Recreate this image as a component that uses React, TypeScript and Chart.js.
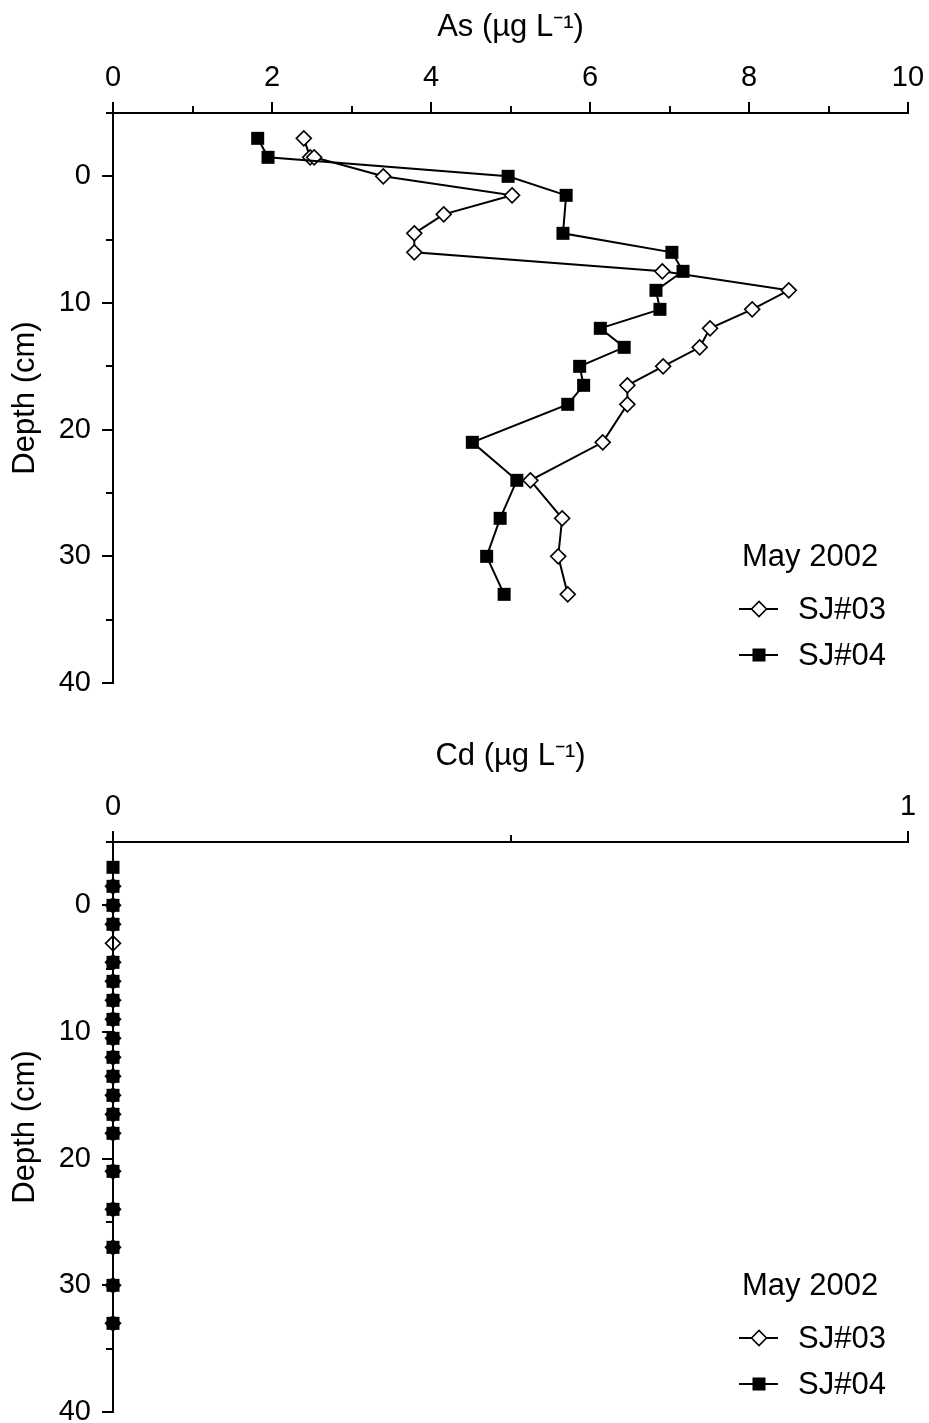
import React, { useEffect, useRef } from 'react';
import { Chart, registerables } from 'chart.js';

Chart.register(...registerables);

// ---------- Data ----------
const legendTitle = 'May 2002';
const seriesNames = ['SJ#03', 'SJ#04'];

// As panel
const asDepthSJ03 = [-3, -1.5, -1.5, 0, 1.5, 3, 4.5, 6, 7.5, 9, 10.5, 12, 13.5, 15, 16.5, 18, 21, 24, 27, 30, 33];
const asValueSJ03 = [2.40, 2.48, 2.53, 3.40, 5.02, 4.16, 3.79, 3.79, 6.91, 8.50, 8.04, 7.51, 7.38, 6.92, 6.47, 6.47, 6.16, 5.25, 5.65, 5.60, 5.72];
const asDepthSJ04 = [-3, -1.5, 0, 1.5, 4.5, 6, 7.5, 9, 10.5, 12, 13.5, 15, 16.5, 18, 21, 24, 27, 30, 33];
const asValueSJ04 = [1.82, 1.95, 4.97, 5.70, 5.66, 7.03, 7.17, 6.83, 6.88, 6.13, 6.43, 5.87, 5.92, 5.72, 4.52, 5.08, 4.87, 4.70, 4.92];

// Cd panel
const cdDepthSJ03 = [-1.5, 0, 1.5, 3, 4.5, 6, 7.5, 9, 10.5, 12, 13.5, 15, 16.5, 18, 21, 24, 27, 30, 33];
const cdValueSJ03 = [0, 0, 0, 0, 0, 0, 0, 0, 0, 0, 0, 0, 0, 0, 0, 0, 0, 0, 0];
const cdDepthSJ04 = [-3, -1.5, 0, 1.5, 4.5, 6, 7.5, 9, 10.5, 12, 13.5, 15, 16.5, 18, 21, 24, 27, 30, 33];
const cdValueSJ04 = [0, 0, 0, 0, 0, 0, 0, 0, 0, 0, 0, 0, 0, 0, 0, 0, 0, 0, 0];

// Axes
const depthMin = -5;
const depthMax = 40;
const depthStep = 5;
const depthLabelStep = 10;
const depthTitle = 'Depth (cm)';

const asTitle = 'As (\u00b5g L\u207b\u00b9)';
const asMax = 10;
const asStep = 1;
const asLabelStep = 2;

const cdTitle = 'Cd (\u00b5g L\u207b\u00b9)';
const cdMax = 1;
const cdStep = 0.5;
const cdLabelStep = 1;

const FONT = "'Liberation Sans', Arial, Helvetica, sans-serif";
const MAJOR_TICK = 11;
const MINOR_TICK = 7;

function isMultiple(v: number, step: number) {
  const r = v / step;
  return Math.abs(r - Math.round(r)) < 1e-9;
}

function drawDiamond(ctx: CanvasRenderingContext2D, x: number, y: number, r: number) {
  ctx.beginPath();
  ctx.moveTo(x - r, y);
  ctx.lineTo(x, y - r);
  ctx.lineTo(x + r, y);
  ctx.lineTo(x, y + r);
  ctx.closePath();
  ctx.fillStyle = '#fff';
  ctx.fill();
  ctx.lineWidth = 1.6;
  ctx.strokeStyle = '#000';
  ctx.stroke();
}

function drawSquare(ctx: CanvasRenderingContext2D, x: number, y: number, s: number) {
  ctx.fillStyle = '#000';
  ctx.fillRect(x - s / 2, y - s / 2, s, s);
}

const legendPlugin = {
  id: 'insideLegend',
  afterDraw(chart: any) {
    const ctx: CanvasRenderingContext2D = chart.ctx;
    const top = chart.chartArea.top;
    ctx.save();
    ctx.font = `31px ${FONT}`;
    ctx.fillStyle = '#000';
    ctx.textBaseline = 'middle';
    ctx.textAlign = 'left';
    ctx.fillText(legendTitle, 742, top + 444);
    const rows = [top + 496, top + 542];
    rows.forEach((ry, i) => {
      ctx.beginPath();
      ctx.moveTo(739, ry);
      ctx.lineTo(778, ry);
      ctx.lineWidth = 2;
      ctx.strokeStyle = '#000';
      ctx.stroke();
      if (i === 0) drawDiamond(ctx, 759, ry, 7.5);
      else drawSquare(ctx, 759, ry, 13);
      ctx.fillStyle = '#000';
      ctx.fillText(seriesNames[i], 798, ry + 1);
    });
    ctx.restore();
  },
};

const minorTickPlugin = {
  id: 'minorTicks',
  afterDraw(chart: any) {
    const ctx: CanvasRenderingContext2D = chart.ctx;
    const area = chart.chartArea;
    const xs = chart.scales.x;
    const ys = chart.scales.y;
    const xLabelStep = chart.options.scales.x.labelStep;
    ctx.save();
    ctx.strokeStyle = '#000';
    ctx.lineWidth = 2;
    xs.ticks.forEach((t: any) => {
      if (isMultiple(t.value, xLabelStep)) return;
      const px = Math.round(xs.getPixelForValue(t.value));
      ctx.beginPath();
      ctx.moveTo(px, area.top);
      ctx.lineTo(px, area.top - MINOR_TICK);
      ctx.stroke();
    });
    ys.ticks.forEach((t: any) => {
      if (t.value >= 0 && isMultiple(t.value, depthLabelStep)) return;
      const py = Math.round(ys.getPixelForValue(t.value));
      ctx.beginPath();
      ctx.moveTo(area.left, py);
      ctx.lineTo(area.left - MINOR_TICK, py);
      ctx.stroke();
    });
    ctx.restore();
  },
};

interface PanelProps {
  top: number;
  xTitle: string;
  xMax: number;
  xStep: number;
  xLabelStep: number;
  x03: number[];
  y03: number[];
  x04: number[];
  y04: number[];
}

function Panel({ top, xTitle, xMax, xStep, xLabelStep, x03, y03, x04, y04 }: PanelProps) {
  const ref = useRef<HTMLCanvasElement | null>(null);
  useEffect(() => {
    if (!ref.current) return;
    const d03 = x03.map((v, i) => ({ x: v, y: y03[i] }));
    const d04 = x04.map((v, i) => ({ x: v, y: y04[i] }));
    const zeroPad = (s: any) => {
      s.paddingLeft = 0;
      s.paddingRight = 0;
      s.paddingTop = 0;
      s.paddingBottom = 0;
    };
    const chart = new Chart(ref.current, {
      type: 'scatter',
      data: {
        datasets: [
          {
            label: seriesNames[0],
            data: d03,
            showLine: true,
            borderColor: '#000',
            borderWidth: 2,
            pointStyle: 'rectRot',
            pointRadius: 7.5,
            pointBorderWidth: 1.6,
            pointBackgroundColor: '#fff',
            pointBorderColor: '#000',
            clip: false as any,
            order: 1,
          },
          {
            label: seriesNames[1],
            data: d04,
            showLine: true,
            borderColor: '#000',
            borderWidth: 2,
            pointStyle: 'rect',
            pointRadius: 9.2,
            pointBorderWidth: 0,
            pointBackgroundColor: '#000',
            pointBorderColor: '#000',
            clip: false as any,
            order: 0,
          },
        ],
      },
      options: {
        animation: false,
        responsive: false,
        maintainAspectRatio: false,
        layout: { padding: { left: 0, top: 0, right: 21, bottom: 17 } },
        plugins: {
          legend: { display: false },
          tooltip: { enabled: false },
        },
        scales: {
          x: {
            type: 'linear',
            position: 'top',
            min: 0,
            max: xMax,
            labelStep: xLabelStep,
            afterFit: (s: any) => { s.height = 113; zeroPad(s); },
            afterBuildTicks: (s: any) => {
              const t: any[] = [];
              for (let v = 0; v <= xMax + 1e-9; v += xStep) t.push({ value: Math.round(v * 1000) / 1000 });
              s.ticks = t;
            },
            ticks: {
              autoSkip: false,
              maxRotation: 0,
              padding: 7,
              color: '#000',
              font: { family: FONT, size: 29 },
              callback: (v: any) => (isMultiple(Number(v), xLabelStep) ? String(v) : ''),
            },
            grid: {
              drawOnChartArea: false,
              drawTicks: true,
              tickLength: MAJOR_TICK,
              color: '#000',
              lineWidth: 2,
              tickColor: (c: any) => (c.tick && isMultiple(c.tick.value, xLabelStep) ? '#000' : 'rgba(0,0,0,0)'),
            },
            border: { display: true, color: '#000', width: 2 },
            title: {
              display: true,
              text: xTitle,
              color: '#000',
              font: { family: FONT, size: 31 },
              padding: { top: 9, bottom: 0 },
            },
          },
          y: {
            type: 'linear',
            position: 'left',
            reverse: true,
            min: depthMin,
            max: depthMax,
            afterFit: (s: any) => { s.width = 113; zeroPad(s); },
            afterBuildTicks: (s: any) => {
              const t: any[] = [];
              for (let v = depthMin; v <= depthMax; v += depthStep) t.push({ value: v });
              s.ticks = t;
            },
            ticks: {
              autoSkip: false,
              padding: 11,
              color: '#000',
              font: { family: FONT, size: 29 },
              callback: (v: any) => (Number(v) >= 0 && isMultiple(Number(v), depthLabelStep) ? String(v) : ''),
            },
            grid: {
              drawOnChartArea: false,
              drawTicks: true,
              tickLength: MAJOR_TICK,
              color: '#000',
              lineWidth: 2,
              tickColor: (c: any) =>
                c.tick && c.tick.value >= 0 && isMultiple(c.tick.value, depthLabelStep) ? '#000' : 'rgba(0,0,0,0)',
            },
            border: { display: true, color: '#000', width: 2 },
            title: {
              display: true,
              text: depthTitle,
              color: '#000',
              font: { family: FONT, size: 31 },
              padding: { top: 7, bottom: 0 },
            },
          },
        },
      },
      plugins: [minorTickPlugin, legendPlugin],
    } as any);
    return () => chart.destroy();
  }, []);
  return (
    <div style={{ position: 'absolute', left: 0, top, width: 929, height: 700 }}>
      <canvas ref={ref} width={929} height={700} style={{ width: 929, height: 700, display: 'block' }} />
    </div>
  );
}

export default function App() {
  return (
    <div style={{ position: 'fixed', left: 0, top: 0, width: 929, height: 1423, overflow: 'hidden', background: '#fff' }}>
      <Panel top={0} xTitle={asTitle} xMax={asMax} xStep={asStep} xLabelStep={asLabelStep}
        x03={asValueSJ03} y03={asDepthSJ03} x04={asValueSJ04} y04={asDepthSJ04} />
      <Panel top={729} xTitle={cdTitle} xMax={cdMax} xStep={cdStep} xLabelStep={cdLabelStep}
        x03={cdValueSJ03} y03={cdDepthSJ03} x04={cdValueSJ04} y04={cdDepthSJ04} />
    </div>
  );
}
